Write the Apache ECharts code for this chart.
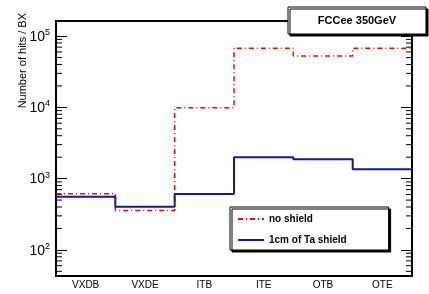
<!DOCTYPE html>
<html>
<head>
<meta charset="utf-8">
<style>
  html, body { margin: 0; padding: 0; background: #fff; }
  #main { width: 429px; height: 294px; }
</style>
<script src="https://cdn.jsdelivr.net/npm/echarts@6/dist/echarts.min.js"></script>
</head>
<body>
<div id="main"></div>
<script>
"use strict";

// detector regions
var categories = ['VXDB', 'VXDE', 'ITB', 'ITE', 'OTB', 'OTE'];
// hits per bunch crossing
var noShield = [615, 357, 9900, 67800, 52800, 67800];
var taShield = [558, 403, 610, 1995, 1870, 1352];
// minor tick multipliers per decade
var minorMult = [2, 3, 4, 5, 6, 7, 8, 9];
var decades = [10, 100, 1000, 10000, 100000];

var yMin = 43, yMax = 163000;
var font = '"Liberation Sans", Arial, sans-serif';

// step histogram points: each bin drawn from its left edge to the next one
function toSteps(vals) {
	var pts = [];
	for (var i = 0; i < vals.length; i++) pts.push([i, vals[i]]);
	pts.push([vals.length, vals[vals.length - 1]]);
	return pts;
}

var minorTicks = [];
decades.forEach(function (d) {
	minorMult.forEach(function (m) {
		var v = d * m;
		if (v > yMin && v < yMax) minorTicks.push([0, v]);
	});
});

var chart = echarts.init(document.getElementById('main'));
var option = {
	animation: false,
	textStyle: { fontFamily: font },
	grid: {
		left: 56, right: 17, top: 21, bottom: 18,
		show: true, borderColor: '#000', borderWidth: 2
	},
	legend: {
		data: ['no shield', '1cm of Ta shield'],
		orient: 'vertical',
		left: 230, top: 207,
		padding: [7, 42, 5, 7],
		itemGap: 11,
		itemWidth: 26, itemHeight: 10,
		itemStyle: { opacity: 0 },
		backgroundColor: '#fff',
		borderColor: '#000', borderWidth: 1,
		shadowColor: '#000', shadowBlur: 0, shadowOffsetX: 2, shadowOffsetY: 2,
		textStyle: { fontSize: 10, fontWeight: 'bold', color: '#000', fontFamily: font }
	},
	xAxis: [{
		type: 'value', min: 0, max: categories.length, position: 'bottom', show: false
	}, {
		type: 'category', data: categories, position: 'bottom',
		axisLine: { lineStyle: { color: '#000', width: 2 } },
		axisTick: { inside: true, length: 6, lineStyle: { color: '#000' } },
		axisLabel: { fontSize: 10, color: '#000', margin: 4 }
	}, {
		type: 'category', data: categories, position: 'top',
		axisLine: { lineStyle: { color: '#000', width: 2 } },
		axisTick: { inside: true, length: 6, lineStyle: { color: '#000' } },
		axisLabel: { show: false }
	}],
	yAxis: [{
		type: 'log', min: yMin, max: yMax, position: 'left',
		splitLine: { show: false },
		axisLine: { show: true, lineStyle: { color: '#000', width: 2 } },
		axisTick: { show: true, inside: true, length: 11, lineStyle: { color: '#000' } },
		axisLabel: {
			margin: 6, showMinLabel: false, showMaxLabel: false,
			formatter: function (v) {
				return '{b|10}{s|' + Math.round(Math.log10(v)) + '}';
			},
			rich: {
				b: { fontSize: 14, color: '#000', fontFamily: font, verticalAlign: 'bottom', lineHeight: 16 },
				s: { fontSize: 9, color: '#000', fontFamily: font, verticalAlign: 'top', lineHeight: 16 }
			}
		}
	}, {
		type: 'log', min: yMin, max: yMax, position: 'right',
		splitLine: { show: false },
		axisLine: { show: true, lineStyle: { color: '#000', width: 2 } },
		axisTick: { show: true, inside: true, length: 11, lineStyle: { color: '#000' } },
		axisLabel: { show: false }
	}],
	series: [{
		name: 'no shield', type: 'line', step: 'end',
		xAxisIndex: 0, yAxisIndex: 0,
		symbol: 'none', color: '#ff0000',
		lineStyle: { color: '#ff0000', width: 1.5, type: [5, 3, 1, 3] },
		data: toSteps(noShield), z: 3
	}, {
		name: '1cm of Ta shield', type: 'line', step: 'end',
		xAxisIndex: 0, yAxisIndex: 0,
		symbol: 'none', color: '#161696',
		lineStyle: { color: '#161696', width: 2 },
		data: toSteps(taShield), z: 4
	}, {
		name: 'minor', type: 'custom',
		xAxisIndex: 0, yAxisIndex: 0,
		silent: true,
		data: minorTicks,
		renderItem: function (params, api) {
			var v = api.value(1);
			var l = api.coord([0, v]);
			var r = api.coord([categories.length, v]);
			return {
				type: 'group',
				children: [
					{ type: 'line', shape: { x1: l[0], y1: l[1], x2: l[0] + 6, y2: l[1] }, style: { stroke: '#000', lineWidth: 1 } },
					{ type: 'line', shape: { x1: r[0] - 6, y1: r[1], x2: r[0], y2: r[1] }, style: { stroke: '#000', lineWidth: 1 } }
				]
			};
		}
	}],
	graphic: [{
		type: 'text', x: 23, y: 13, rotation: Math.PI / 2,
		style: { text: 'Number of hits / BX', fontSize: 11, fill: '#000', align: 'right', verticalAlign: 'middle', fontFamily: font }
	}, {
		type: 'rect', shape: { x: 288, y: 7, width: 138, height: 27 },
		style: { fill: '#fff', stroke: '#000', lineWidth: 1, shadowColor: '#000', shadowOffsetX: 2, shadowOffsetY: 2, shadowBlur: 0 },
		z: 10
	}, {
		type: 'text', x: 357, y: 21, z: 11,
		style: { text: 'FCCee 350GeV', fontSize: 11, fontWeight: 'bold', fill: '#000', align: 'center', verticalAlign: 'middle', fontFamily: font }
	}]
};
chart.setOption(option);
</script>
</body>
</html>
